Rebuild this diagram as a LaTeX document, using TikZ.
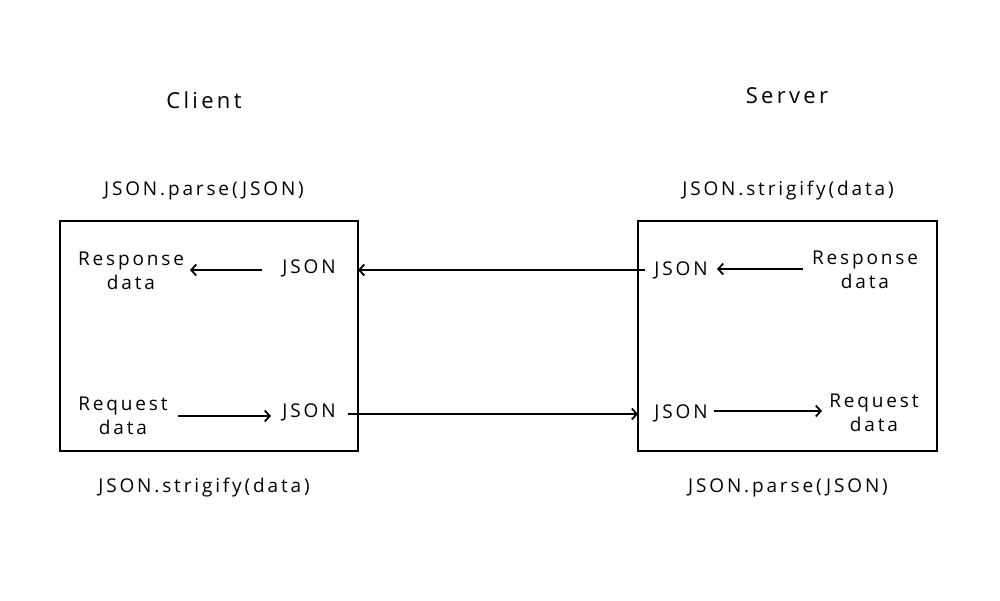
\documentclass[tikz,border=0pt]{standalone}
\usepackage{fontspec}
\setmainfont{Open Sans}[LetterSpace=15]
\usetikzlibrary{arrows.meta}
\begin{document}
\begin{tikzpicture}[x=1pt,y=-1pt,
  box/.style={draw,line width=2.8pt},
  lbl/.style={inner sep=0pt,font=\fontsize{19}{24}\selectfont,align=center},
  ttl/.style={inner sep=0pt,font=\fontsize{22}{26}\selectfont},
  arr/.style={-{Straight Barb[length=5pt,width=11pt,line width=1.8pt]},line width=1.8pt}]
\useasboundingbox (0,0) rectangle (1000,600);
\draw[box] (60,221) rectangle (358,451);
\draw[box] (638,221) rectangle (937,451);
\node[ttl] (client) at (204,100) {Client};
\node[ttl] (server) at (787,96) {Server};
\node[lbl] (ctop) at (204,191) {JSON.parse(JSON)};
\node[lbl] (stop) at (788,191) {JSON.strigify(data)};
\node[lbl] (cbot) at (204,488) {JSON.strigify(data)};
\node[lbl] (sbot) at (788,488) {JSON.parse(JSON)};
% client
\node[lbl] (cresp) at (131,271) {Response\\data};
\node[lbl] (cj1) at (309,268) {JSON};
\node[lbl] (creq) at (123,416) {Request\\data};
\node[lbl] (cj2) at (309,412) {JSON};
% server
\node[lbl] (sj1) at (681,270) {JSON};
\node[lbl] (sresp) at (865,270) {Response\\data};
\node[lbl] (sj2) at (681,413) {JSON};
\node[lbl] (sreq) at (874,413) {Request\\data};
\coordinate (a1s) at (262,270); \coordinate (a1e) at (190,270);
\draw[arr] (a1s) -- (a1e);
\coordinate (a2s) at (178,416); \coordinate (a2e) at (271,416);
\draw[arr] (a2s) -- (a2e);
\coordinate (a3s) at (645,270); \coordinate (a3e) at (358,270);
\draw[arr] (a3s) -- (a3e);
\coordinate (a4s) at (348,414); \coordinate (a4e) at (638,414);
\draw[arr] (a4s) -- (a4e);
\coordinate (a5s) at (803,269); \coordinate (a5e) at (717,269);
\draw[arr] (a5s) -- (a5e);
\coordinate (a6s) at (714,411); \coordinate (a6e) at (822,411);
\draw[arr] (a6s) -- (a6e);
\end{tikzpicture}
\end{document}
